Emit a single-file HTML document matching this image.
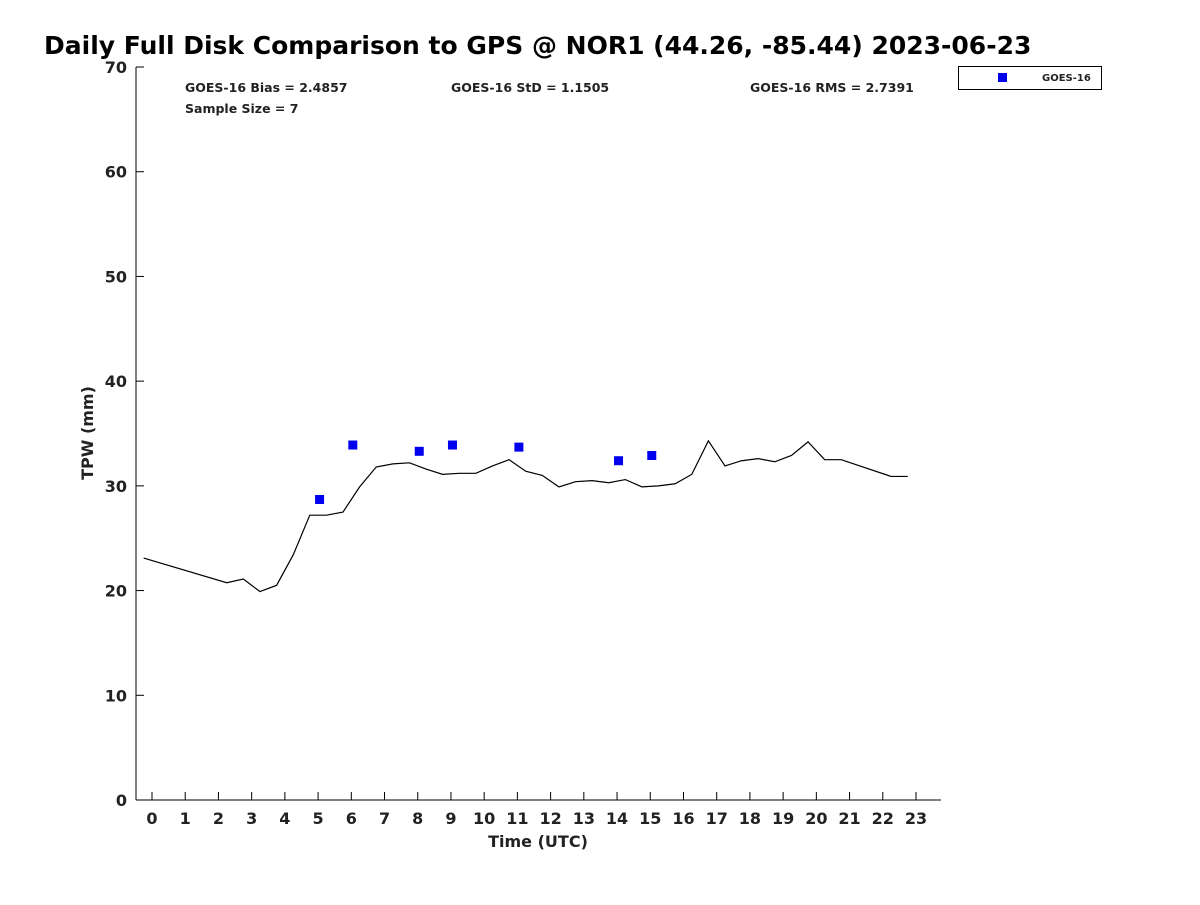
<!DOCTYPE html>
<html><head><meta charset="utf-8"><style>
body{margin:0;background:#fff;font-family:"Liberation Sans","DejaVu Sans",sans-serif}
svg text{font-family:"DejaVu Sans","Liberation Sans",sans-serif;font-weight:bold;fill:#222}
</style></head><body>
<svg width="1200" height="900" xmlns="http://www.w3.org/2000/svg">
<rect width="1200" height="900" fill="#fff"/>
<text x="44" y="54" font-size="25" style="fill:#000">Daily Full Disk Comparison to GPS @ NOR1 (44.26, -85.44) 2023-06-23</text>
<g id="axes"></g>
<g id="marks"></g>
<text x="185" y="92" font-size="12.5">GOES-16 Bias = 2.4857</text>
<text x="451" y="92" font-size="12.5">GOES-16 StD = 1.1505</text>
<text x="750" y="92" font-size="12.5">GOES-16 RMS = 2.7391</text>
<text x="185" y="113" font-size="12.5">Sample Size = 7</text>
<g>
<rect x="958.5" y="66.5" width="143" height="23" fill="#fff" stroke="#000"/>
<rect x="998" y="73" width="9" height="9" fill="#0000ee"/>
<text x="1042" y="81" font-size="10">GOES-16</text>
</g>
<text transform="translate(93,433) rotate(-90)" text-anchor="middle" font-size="16">TPW (mm)</text>
<text x="538" y="847" text-anchor="middle" font-size="16">Time (UTC)</text>
</svg>
<script>
const xTicks=[0,1,2,3,4,5,6,7,8,9,10,11,12,13,14,15,16,17,18,19,20,21,22,23];
const yTicks=[0,10,20,30,40,50,60,70];
const gpsHours=[-0.25,2.25,2.75,3.25,3.75,4.25,4.75,5.25,5.75,6.25,6.75,7.25,7.75,8.25,8.75,9.25,9.75,10.25,10.75,11.25,11.75,12.25,12.75,13.25,13.75,14.25,14.75,15.25,15.75,16.25,16.75,17.25,17.75,18.25,18.75,19.25,19.75,20.25,20.75,22.25,22.75];
const gpsTPW=[23.1,20.75,21.1,19.9,20.5,23.4,27.2,27.2,27.5,29.9,31.8,32.1,32.2,31.6,31.1,31.2,31.2,31.9,32.5,31.4,31.0,29.9,30.4,30.5,30.3,30.6,29.9,30.0,30.2,31.1,34.3,31.9,32.4,32.6,32.3,32.9,34.2,32.5,32.5,30.9,30.9];
const goesHours=[5,6,8,9,11,14,15];
const goesTPW=[28.7,33.9,33.3,33.9,33.7,32.4,32.9];
const NS="http://www.w3.org/2000/svg";
const X=h=>152+h*(916-152)/23, Y=v=>800-v*(733/70);
function mk(t,a,p){const e=document.createElementNS(NS,t);for(const k in a)e.setAttribute(k,a[k]);p.appendChild(e);return e;}
const ax=document.getElementById('axes'), mg=document.getElementById('marks');
let l=mk('line',{x1:136,y1:67,x2:136,y2:800,stroke:'#000'},ax);


l=mk('line',{x1:136,y1:800,x2:941,y2:800,stroke:'#000'},ax);


xTicks.forEach(t=>{
 const tk=mk('line',{x1:X(t),y1:800,x2:X(t),y2:792,stroke:'#000'},ax);
 
 
 const tx=mk('text',{x:X(t),y:824,'text-anchor':'middle','font-size':16},ax);tx.textContent=t;
 
 
});
yTicks.forEach(t=>{
 const tk=mk('line',{x1:136,y1:Y(t),x2:144,y2:Y(t),stroke:'#000'},ax);
 
 
 const tx=mk('text',{x:127,y:Y(t)+6,'text-anchor':'end','font-size':16},ax);tx.textContent=t;
 
 
});
const pl=mk('polyline',{points:gpsHours.map((h,i)=>X(h)+','+Y(gpsTPW[i])).join(' '),fill:'none',stroke:'#000','stroke-width':1.2},mg);


goesHours.forEach((h,i)=>{
 const r=mk('rect',{x:X(h)-3,y:Y(goesTPW[i])-4.5,width:9,height:9,fill:'#0000ee'},mg);
 
 
});
</script>
</body></html>
